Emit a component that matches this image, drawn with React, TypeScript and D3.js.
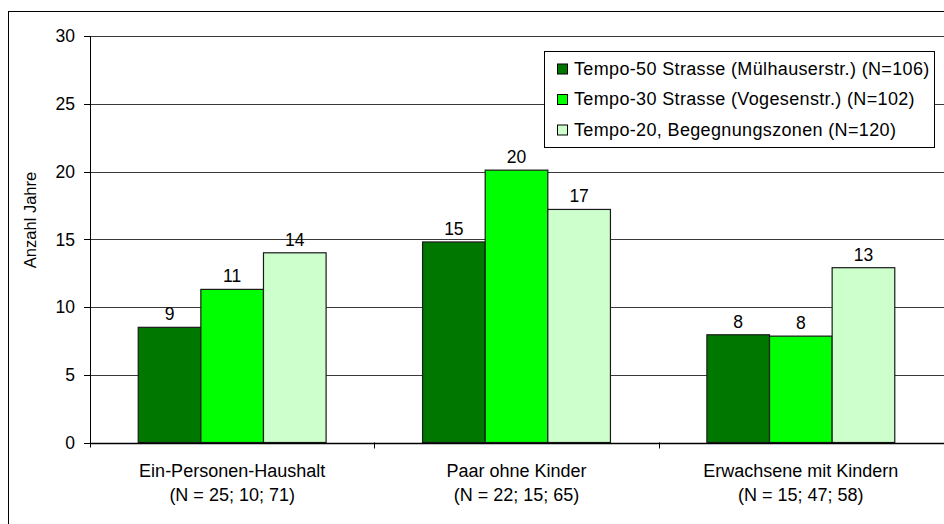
import * as d3 from "d3";

const categories = ["Ein-Personen-Haushalt", "Paar ohne Kinder", "Erwachsene mit Kindern"];
const nLabels = ["(N = 25; 10; 71)", "(N = 22; 15; 65)", "(N = 15; 47; 58)"];
const seriesNames = [
  "Tempo-50 Strasse (Mülhauserstr.) (N=106)",
  "Tempo-30 Strasse (Vogesenstr.) (N=102)",
  "Tempo-20, Begegnungszonen (N=120)",
];
const tempo50 = [8.5, 14.8, 7.95];
const tempo30 = [11.3, 20.1, 7.85];
const tempo20 = [14.0, 17.2, 12.9];
const yTicks = [0, 5, 10, 15, 20, 25, 30];
const colors = ["#007800", "#00ff00", "#ccffcc"];

const W = 944;
const H = 524;
const left = 90;
const right = 943;
const top = 36;
const bottom = 442.5;
const font = "'Liberation Sans', Arial, sans-serif";

export default function App() {
  const series = [tempo50, tempo30, tempo20];
  const x = d3.scaleBand<string>().domain(categories).range([left, right]).paddingInner(0).paddingOuter(0);
  const inner = d3
    .scaleBand<number>()
    .domain([0, 1, 2])
    .range([0, x.bandwidth()])
    .paddingInner(0)
    .paddingOuter(0.77);
  const y = d3.scaleLinear().domain([0, 30]).range([bottom, top]);

  return (
    <svg
      width={W}
      height={H}
      style={{ position: "absolute", left: 0, top: 0, background: "#fff" }}
      fontFamily={font}
    >
      <rect x={8.5} y={11.5} width={1000} height={600} fill="#fff" stroke="#000" />
      {/* gridlines and y ticks */}
      {yTicks.map((t) => (
        <g key={t}>
          {t > 0 && (
            <line x1={left} x2={right + 2} y1={Math.round(y(t)) + 0.5} y2={Math.round(y(t)) + 0.5} stroke="#3a3a3a" />
          )}
          <line x1={84} x2={left} y1={Math.round(y(t)) + 0.5} y2={Math.round(y(t)) + 0.5} stroke="#000" />
          <text x={75} y={y(t)} dy="0.36em" textAnchor="end" fontSize={17.5} fill="#000">
            {t}
          </text>
        </g>
      ))}
      {/* bars */}
      {categories.map((c, ci) => (
        <g key={c}>
          {series.map((s, si) => {
            const bx = (x(c) ?? 0) + (inner(si) ?? 0);
            const by = y(s[ci]);
            return (
              <g key={si}>
                <rect
                  x={bx}
                  y={by}
                  width={inner.bandwidth()}
                  height={bottom - by}
                  fill={colors[si]}
                  stroke="#1a1a1a"
                  strokeWidth={1.2}
                />
                <text
                  x={bx + inner.bandwidth() / 2}
                  y={by - 7}
                  textAnchor="middle"
                  fontSize={17.5}
                  fill="#000"
                >
                  {Math.round(s[ci])}
                </text>
              </g>
            );
          })}
          <text x={(x(c) ?? 0) + x.bandwidth() / 2} y={477} textAnchor="middle" fontSize={18} fill="#000">
            {c}
          </text>
          <text x={(x(c) ?? 0) + x.bandwidth() / 2} y={501} textAnchor="middle" fontSize={18} fill="#000">
            {nLabels[ci]}
          </text>
        </g>
      ))}
      {/* axes */}
      <line x1={left + 0.5} x2={left + 0.5} y1={top} y2={bottom + 5} stroke="#000" />
      <line x1={left} x2={right + 2} y1={Math.round(bottom) + 0.5} y2={Math.round(bottom) + 0.5} stroke="#000" strokeWidth={1.5} />
      {[1, 2].map((i) => (
        <line
          key={i}
          x1={Math.round(left + i * x.bandwidth()) + 0.5}
          x2={Math.round(left + i * x.bandwidth()) + 0.5}
          y1={bottom}
          y2={bottom + 6}
          stroke="#000"
        />
      ))}
      <text
        transform={`translate(36,220) rotate(-90)`}
        textAnchor="middle"
        fontSize={16.5}
        fill="#000"
      >
        Anzahl Jahre
      </text>
      {/* legend */}
      <g>
        <rect x={544.5} y={51.5} width={390} height={96} fill="#fff" stroke="#000" />
        {seriesNames.map((n, i) => (
          <g key={n} transform={`translate(557,${68.5 + i * 30.5})`}>
            <rect x={0.5} y={-4.5} width={10} height={10} fill={colors[i]} stroke="#000" />
            <text x={17} y={0} dy="0.36em" fontSize={18} letterSpacing={0.35} fill="#000">
              {n}
            </text>
          </g>
        ))}
      </g>
    </svg>
  );
}
